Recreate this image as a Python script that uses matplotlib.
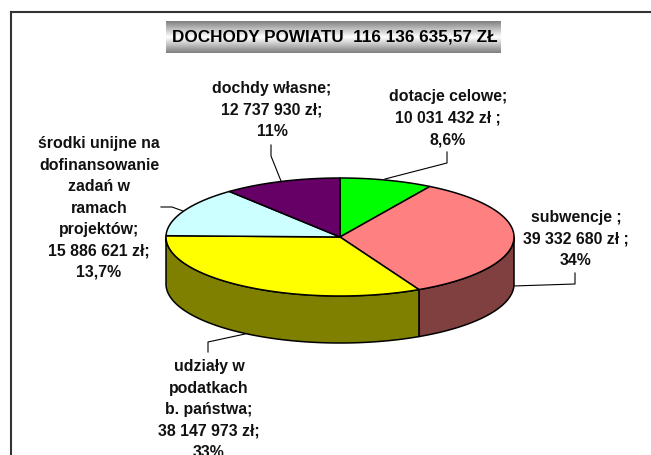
import numpy as np
import matplotlib
matplotlib.use("Agg")
import matplotlib.pyplot as plt
from matplotlib.patches import Polygon

title = "DOCHODY POWIATU  116 136 635,57 ZŁ"
values = [10031432, 39332680, 38147973, 15886621, 12737930]
top_colors = ["#00FF00", "#FF8080", "#FFFF00", "#CCFFFF", "#660066"]
side_colors = ["#008000", "#804040", "#808000", "#668080", "#330033"]
labels = [
    ["dotacje celowe;", "10 031 432 zł ;", "8,6%"],
    ["subwencje ;", "39 332 680 zł ;", "34%"],
    ["udziały w", "podatkach", "b. państwa;", "38 147 973 zł;", "33%"],
    ["środki unijne na", "dofinansowanie", "zadań w", "ramach", "projektów;", "15 886 621 zł;", "13,7%"],
    ["dochdy własne;", "12 737 930 zł;", "11%"],
]

W, H = 651, 456
cx, cy = 340, 238
rx, ry = 174, 59
depth = 47

# first line centre of each label, pixels
label_pos = [(448, 97), (576, 218), (209, 367), (99, 144), (272, 89)]
line_step = 21.4

# leader lines, pixels
leaders = [
    [(385, 180), (447, 164), (447, 153)],
    [(513, 287), (575, 285), (575, 274)],
    [(245, 335), (208, 343), (208, 353)],
    [(183, 212), (172, 208), (161, 208)],
    [(281, 182), (271, 157), (271, 146)],
]


def arc(t0, t1, dy=0):
    # angles clockwise from the top, in degrees
    t = np.radians(np.linspace(t0, t1, max(int(abs(t1 - t0)) * 2, 2)))
    return np.column_stack((cx + rx * np.sin(t), cy - ry * np.cos(t) + dy))


fig = plt.figure(figsize=(W / 100, H / 100), dpi=100)
ax = fig.add_axes([0, 0, 1, 1])
ax.axis("off")

# chart frame, runs off the right and bottom of the picture
ax.plot([11, 11], [H + 5, 12.5], color="#333333", lw=1.5, zorder=1)
ax.plot([11, W + 5], [12.5, 12.5], color="#333333", lw=1.5, zorder=1)

# title box with grey-white-grey gradient
grad = 1 - np.abs(np.linspace(-1, 1, 64)).reshape(-1, 1)
grad = 0.5 + 0.5 * grad
ax.imshow(grad, extent=(166, 501, 54, 22), cmap="gray", vmin=0, vmax=1,
          aspect="auto", interpolation="bilinear", zorder=2)
ax.set_xlim(0, W)
ax.set_ylim(H, 0)
ax.text(334.5, 37, title, ha="center", va="center", fontsize=12.3,
        family="Liberation Sans", weight="bold", color="black", zorder=3)

edges = np.concatenate(([0], np.cumsum(values) / np.sum(values) * 360))

# side wall, only the front half can be seen
for i in range(len(values)):
    t0 = max(edges[i], 90)
    t1 = min(edges[i + 1], 270)
    if t1 <= t0:
        continue
    pts = np.vstack((arc(t0, t1), arc(t1, t0, depth)))
    ax.add_patch(Polygon(pts, closed=True, facecolor=side_colors[i],
                         edgecolor="black", lw=1.1, joinstyle="round", zorder=4))

# top face
for i in range(len(values)):
    pts = np.vstack(([(cx, cy)], arc(edges[i], edges[i + 1])))
    ax.add_patch(Polygon(pts, closed=True, facecolor=top_colors[i],
                         edgecolor="black", lw=1.1, joinstyle="round", zorder=5))

for pts in leaders:
    xs, ys = zip(*pts)
    ax.plot(xs, ys, color="black", lw=0.8, zorder=3)

for lines, (x, y) in zip(labels, label_pos):
    for n, line in enumerate(lines):
        ax.text(x, y + n * line_step, line, ha="center", va="center", fontsize=11.4,
                family="Liberation Sans", weight="bold", color="#111111", zorder=6)

fig.savefig("out.png", dpi=100, facecolor="white")
